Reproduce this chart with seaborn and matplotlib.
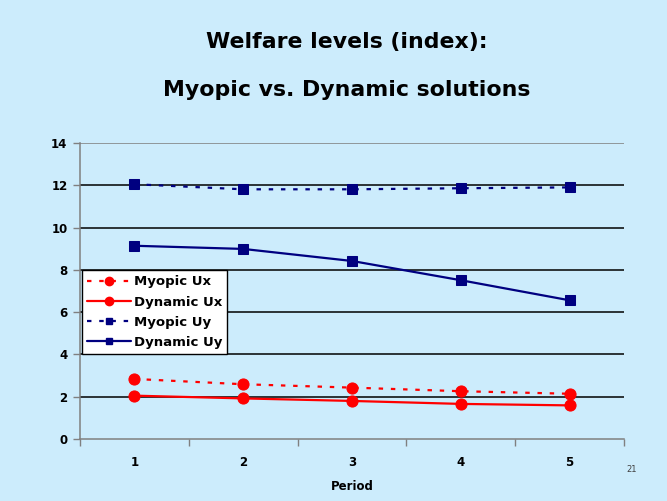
import matplotlib
matplotlib.use("Agg")
import matplotlib.pyplot as plt
import seaborn as sns
import pandas as pd
from matplotlib.lines import Line2D

periods = [1, 2, 3, 4, 5]
myopic_ux = [2.84, 2.59, 2.43, 2.26, 2.14]
dynamic_ux = [2.05, 1.92, 1.80, 1.66, 1.59]
myopic_uy = [12.05, 11.81, 11.81, 11.86, 11.90]
dynamic_uy = [9.14, 8.99, 8.42, 7.51, 6.56]
series_names = ["Myopic Ux", "Dynamic Ux", "Myopic Uy", "Dynamic Uy"]
y_ticks = [0, 2, 4, 6, 8, 10, 12, 14]

sns.set_theme(style="white")
plt.rcParams["font.family"] = ["DejaVu Sans"]
plt.rcParams["text.color"] = "black"
plt.rcParams["axes.labelcolor"] = "black"
plt.rcParams["xtick.labelcolor"] = "black"
plt.rcParams["ytick.labelcolor"] = "black"

bg = "#CCECFC"
red = "#FF0000"
navy = "#000080"

fig = plt.figure(figsize=(6.67, 5.01), dpi=100, facecolor=bg)
ax = fig.add_axes([80 / 667, 62 / 501, 544 / 667, 296 / 501])
ax.set_facecolor(bg)

series = [
    (myopic_ux, red, "o", 8, True),
    (dynamic_ux, red, "o", 8, False),
    (myopic_uy, navy, "s", 7, True),
    (dynamic_uy, navy, "s", 7, False),
]

handles = []
for (vals, col, mk, ms, dotted), name in zip(series, series_names):
    df = pd.DataFrame({"Period": periods, "Value": vals})
    n_before = len(ax.lines)
    sns.lineplot(data=df, x="Period", y="Value", ax=ax, color=col, marker=mk,
                 markersize=ms, markeredgecolor=col, linewidth=1.6, zorder=4,
                 legend=False)
    line = ax.lines[n_before]
    if dotted:
        line.set_dashes((2, 3.5))
    h = Line2D([], [], color=col, marker=mk, markersize=ms - 2,
               markeredgecolor=col, linewidth=1.6)
    if dotted:
        h.set_dashes((2, 3.5))
    handles.append(h)

ax.set_xlim(0.5, 5.5)
ax.set_ylim(0, 14)
ax.set_yticks(y_ticks)
ax.set_yticklabels([str(t) for t in y_ticks], fontsize=8.5, fontweight="bold")
ax.set_xticks(periods)
ax.set_xticklabels([str(p) for p in periods], fontsize=8.5, fontweight="bold")
ax.set_xticks([0.5, 1.5, 2.5, 3.5, 4.5, 5.5], minor=True)
ax.tick_params(axis="x", which="major", length=0, pad=12)
ax.tick_params(axis="x", which="minor", length=5, color="#808080", width=1, direction="out", bottom=True)
ax.tick_params(axis="y", which="major", length=5, color="#808080", width=1, direction="out", left=True, pad=4)

for t in [2, 4, 6, 8, 10, 12]:
    ax.axhline(t, color="black", linewidth=1.1, zorder=1)
ax.axhline(14, color="#808080", linewidth=1.1, zorder=1)

for s in ["top", "right"]:
    ax.spines[s].set_visible(False)
for s in ["left", "bottom"]:
    ax.spines[s].set_color("#808080")
    ax.spines[s].set_linewidth(1.1)

ax.set_xlabel("Period", fontsize=8.5, fontweight="bold", labelpad=8)
ax.set_ylabel("")

leg = ax.legend(handles, series_names, loc="upper left", bbox_to_anchor=(0.004, 0.571),
                borderaxespad=0, frameon=True, fancybox=False, framealpha=1,
                edgecolor="black", facecolor="white", handlelength=3.3,
                prop={"weight": "bold", "size": 9.5}, labelspacing=0.55,
                handletextpad=0.2, borderpad=0.4)
leg.get_frame().set_linewidth(1.0)
leg.set_zorder(5)

fig.text(347 / 667, 1 - 42 / 501, "Welfare levels (index):", ha="center", va="center",
         fontsize=15.8, fontweight="bold")
fig.text(347 / 667, 1 - 90 / 501, "Myopic vs. Dynamic solutions", ha="center", va="center",
         fontsize=15.8, fontweight="bold")
fig.text(632 / 667, 1 - 469 / 501, "21", ha="center", va="center", fontsize=6, color="#404040")

fig.savefig("out.png", dpi=100, facecolor=bg)
